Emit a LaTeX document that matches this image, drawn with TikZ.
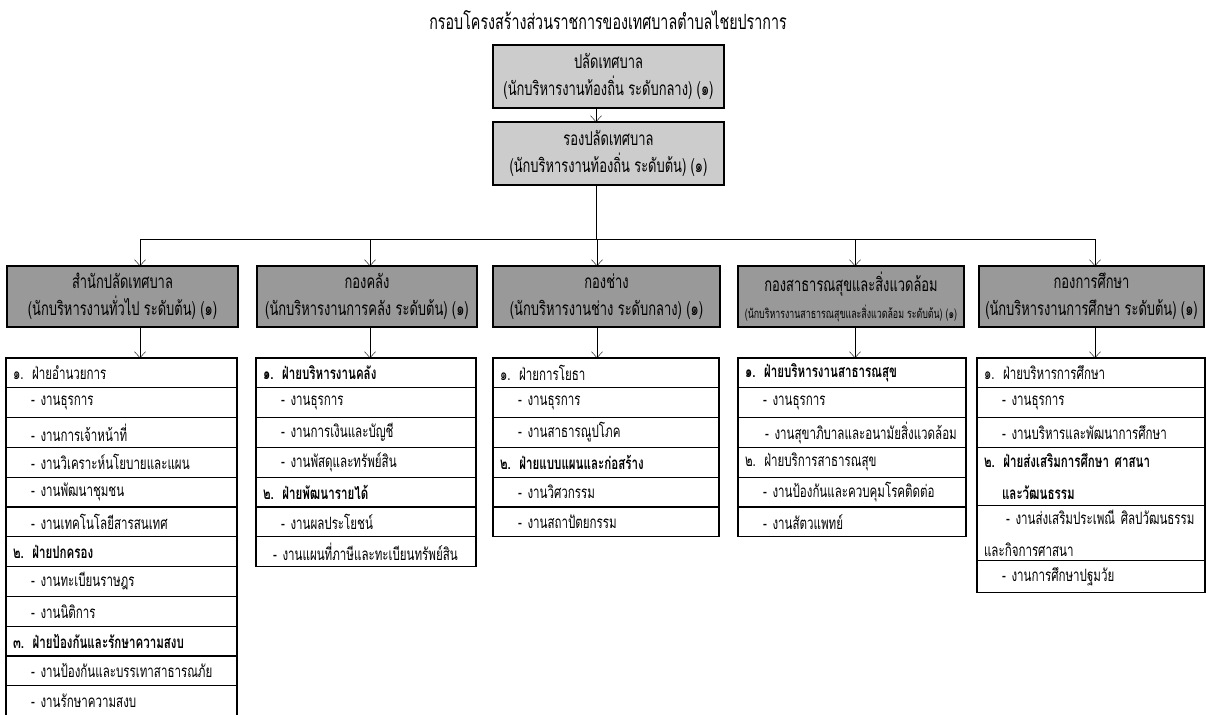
\documentclass[tikz,border=0pt]{standalone}
\usepackage{fontspec}
\setmainfont[Script=Thai,FakeStretch=0.68]{Loma}
\usetikzlibrary{arrows.meta}
\exhyphenpenalty=10000
\begin{document}
\begin{tikzpicture}[x=1pt,y=-1pt,>={Straight Barb[length=6pt,width=11pt]},
    headbox/.style={draw,line width=1.6pt,fill=black!20,anchor=north west,
        minimum height=63pt,inner sep=0pt,outer sep=0pt,align=center,
        font=\fontsize{19}{27}\selectfont},
    unitbox/.style={headbox,fill=black!40,minimum height=61pt},
    row/.style={draw,line width=1.1pt,anchor=north west,minimum height=29.8pt,
        inner xsep=7pt,inner ysep=2pt,outer sep=0pt,align=left,
        font=\fontsize{17}{27}\selectfont},
    listtop/.style={inner sep=0pt,outer sep=0pt,minimum size=0pt}]
    \useasboundingbox (0,0) rectangle (1206,714);
    \node[font=\fontsize{21}{23}\selectfont] (title) at (608,20) {กรอบโครงสร้างส่วนราชการของเทศบาลตำบลไชยปราการ};
    \node[headbox,minimum width=231pt] (palat) at (493,45) {ปลัดเทศบาล\\(นักบริหารงานท้องถิ่น ระดับกลาง) (๑)};
    \node[headbox,minimum width=231pt] (rongpalat) at (493,122) {รองปลัดเทศบาล\\(นักบริหารงานท้องถิ่น ระดับต้น) (๑)};
    \node[unitbox,minimum width=231pt] (u1) at (7,266) {สำนักปลัดเทศบาล\\(นักบริหารงานทั่วไป ระดับต้น) (๑)};
    \node[unitbox,minimum width=220pt] (u2) at (257,266) {กองคลัง\\(นักบริหารงานการคลัง ระดับต้น) (๑)};
    \node[unitbox,minimum width=227pt] (u3) at (493,266) {กองช่าง\\(นักบริหารงานช่าง ระดับกลาง) (๑)};
    \node[unitbox,minimum width=226pt] (u4) at (738,266) {กองสาธารณสุขและสิ่งแวดล้อม\\{\fontsize{13}{14}\selectfont(นักบริหารงานสาธารณสุขและสิ่งแวดล้อม ระดับต้น) (๑)}};
    \node[unitbox,minimum width=225pt] (u5) at (979,266) {กองการศึกษา\\(นักบริหารงานการศึกษา ระดับต้น) (๑)};
    \coordinate (spine) at (596,239);
    \foreach \n/\x in {1/140,2/370,3/597,4/855,5/1095}
        \coordinate (d\n) at (\x,239);
    \draw[->] (palat.south -| spine) -- (rongpalat.north -| spine);
    \draw (rongpalat.south -| spine) -- (spine);
    \draw (d1) -- (d5);
    \foreach \n/\x in {1/6,2/256,3/493,4/738,5/977}
        \node[listtop] (l\n-0) at (\x,358) {};
    \foreach \k/\t [count=\i] in {0/๑. ฝ่ายอำนวยการ, 18/-~งานธุรการ, 18/-~งานการเจ้าหน้าที่,
        18/-~งานวิเคราะห์นโยบายและแผน, 18/-~งานพัฒนาชุมชน, 18/-~งานเทคโนโลยีสารสนเทศ,
        0/{\bfseries ๒. ฝ่ายปกครอง}, 18/-~งานทะเบียนราษฎร, 18/-~งานนิติการ,
        0/{\bfseries ๓. ฝ่ายป้องกันและรักษาความสงบ}, 18/-~งานป้องกันและบรรเทาสาธารณภัย, 18/-~งานรักษาความสงบ} {
        \pgfmathtruncatemacro\j{\i-1}
        \node[row,text width=217pt] (l1-\i) at (l1-\j.south west) {\hspace*{\k pt}\t};
    }
    \foreach \k/\t [count=\i] in {0/{\bfseries ๑. ฝ่ายบริหารงานคลัง}, 18/-~งานธุรการ, 18/-~งานการเงินและบัญชี,
        18/-~งานพัสดุและทรัพย์สิน, 0/{\bfseries ๒. ฝ่ายพัฒนารายได้}, 18/-~งานผลประโยชน์,
        10/-~งานแผนที่ภาษีและทะเบียนทรัพย์สิน} {
        \pgfmathtruncatemacro\j{\i-1}
        \node[row,text width=206pt] (l2-\i) at (l2-\j.south west) {\hspace*{\k pt}\t};
    }
    \foreach \k/\t [count=\i] in {0/๑. ฝ่ายการโยธา, 18/-~งานธุรการ, 18/-~งานสาธารณูปโภค,
        0/{\bfseries ๒. ฝ่ายแบบแผนและก่อสร้าง}, 18/-~งานวิศวกรรม, 18/-~งานสถาปัตยกรรม} {
        \pgfmathtruncatemacro\j{\i-1}
        \node[row,text width=212pt] (l3-\i) at (l3-\j.south west) {\hspace*{\k pt}\t};
    }
    \foreach \k/\t [count=\i] in {0/{\bfseries ๑. ฝ่ายบริหารงานสาธารณสุข}, 18/-~งานธุรการ,
        20/-~งานสุขาภิบาลและอนามัยสิ่งแวดล้อม, 0/๒. ฝ่ายบริการสาธารณสุข,
        18/-~งานป้องกันและควบคุมโรคติดต่อ, 18/-~งานสัตวแพทย์} {
        \pgfmathtruncatemacro\j{\i-1}
        \node[row,text width=214pt] (l4-\i) at (l4-\j.south west) {\hspace*{\k pt}\t};
    }
    \foreach \k/\h/\t [count=\i] in {0/29.8/๑. ฝ่ายบริหารการศึกษา, 18/29.8/-~งานธุรการ,
        18/29.8/-~งานบริหารและพัฒนาการศึกษา,
        0/58/{\bfseries ๒. ฝ่ายส่งเสริมการศึกษา ศาสนา\\[5pt]\hspace*{18pt}และวัฒนธรรม},
        22/55/{-~งานส่งเสริมประเพณี~ศิลปวัฒนธรรม\\[5pt]และกิจการศาสนา},
        18/32/-~งานการศึกษาปฐมวัย} {
        \pgfmathtruncatemacro\j{\i-1}
        \node[row,text width=214pt,minimum height=\h pt] (l5-\i) at (l5-\j.south west) {\hspace*{\k pt}\t};
    }
    \foreach \n in {1,...,5} {
        \draw[->] (d\n) -- (u\n.north -| d\n);
        \draw[->] (u\n.south -| d\n) -- (l\n-1.north -| d\n);
    }
\end{tikzpicture}
\end{document}
